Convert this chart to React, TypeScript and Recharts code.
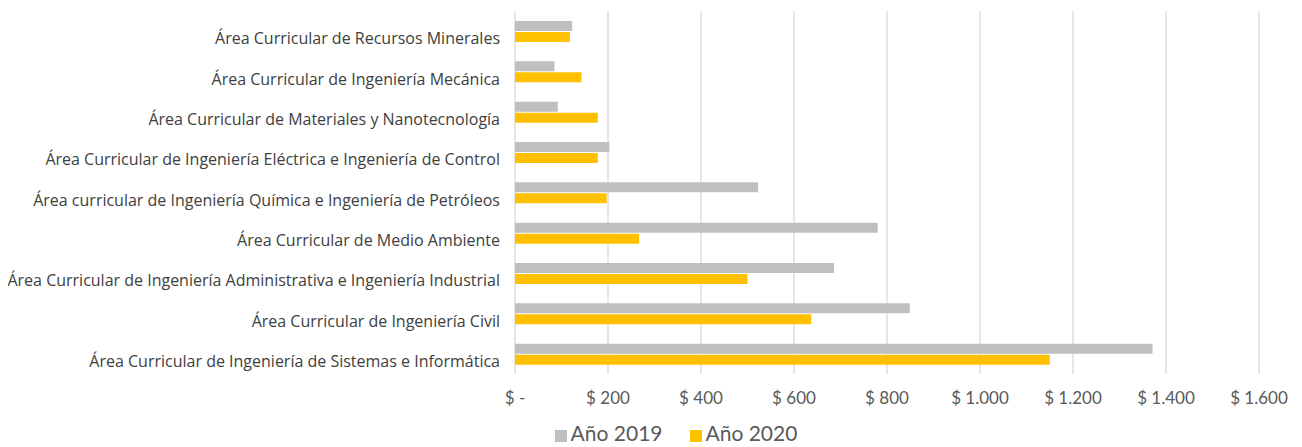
import React from "react";
import { BarChart, Bar, XAxis, YAxis, CartesianGrid, Legend } from "recharts";

const categories = [
  "Área Curricular de Recursos Minerales",
  "Área Curricular de Ingeniería Mecánica",
  "Área Curricular de Materiales y Nanotecnología",
  "Área Curricular de Ingeniería Eléctrica e Ingeniería de Control",
  "Área curricular de Ingeniería Química e Ingeniería de Petróleos",
  "Área Curricular de Medio Ambiente",
  "Área Curricular de Ingeniería Administrativa e Ingeniería Industrial",
  "Área Curricular de Ingeniería Civil",
  "Área Curricular de Ingeniería de Sistemas e Informática",
];

const values2019 = [123, 85, 92, 203, 523, 780, 686, 849, 1371];
const values2020 = [118, 143, 178, 178, 197, 267, 500, 637, 1150];

const xTicks = [0, 200, 400, 600, 800, 1000, 1200, 1400, 1600];

const data = categories.map((name, i) => ({
  name,
  y2019: values2019[i],
  y2020: values2020[i],
}));

const fmt = (v: number) =>
  v === 0 ? "$ -" : "$ " + v.toString().replace(/\B(?=(\d{3})+(?!\d))/g, ".");

const FONT = "Lato, 'Open Sans', sans-serif";
const LABEL_FONT = "'Open Sans', Lato, sans-serif";

const CategoryTick = (props: any) => {
  const { x, y, payload } = props;
  return (
    <text
      x={x}
      y={y}
      dy={13}
      textAnchor="end"
      fill="#404040"
      fontSize={16}
      fontFamily={LABEL_FONT}
    >
      {payload.value}
    </text>
  );
};

export default function App() {
  return (
    <div style={{ width: 1286, height: 439, fontFamily: FONT }}>
      <BarChart
        width={1286}
        height={439}
        data={data}
        layout="vertical"
        margin={{ top: 3, right: 35, left: 0, bottom: 2 }}
        barSize={10}
        barGap={1}
      >
        <CartesianGrid horizontal={false} stroke="#d9d9d9" strokeWidth={1.3} />
        <XAxis
          type="number"
          domain={[0, 1600]}
          ticks={xTicks}
          tickFormatter={fmt}
          axisLine={false}
          tickLine={false}
          interval={0}
          height={36}
          tickMargin={12}
          tick={{ fill: "#595959", fontSize: 17, fontFamily: FONT }}
        />
        <YAxis
          type="category"
          dataKey="name"
          width={507}
          axisLine={false}
          tickLine={false}
          tickSize={13}
          tickMargin={2}
          interval={0}
          tick={<CategoryTick />}
        />
        <Legend
          verticalAlign="bottom"
          align="center"
          iconType="square"
          iconSize={12}
          wrapperStyle={{
            fontSize: 21,
            color: "#595959",
            fontFamily: FONT,
            paddingLeft: 56,
            paddingTop: 10,
          }}
          formatter={(value: string) => (
            <span style={{ color: "#595959", marginRight: 17 }}>{value}</span>
          )}
        />
        <Bar dataKey="y2019" name="Año 2019" fill="#bfbfbf" isAnimationActive={false} />
        <Bar dataKey="y2020" name="Año 2020" fill="#ffc000" isAnimationActive={false} />
      </BarChart>
    </div>
  );
}
